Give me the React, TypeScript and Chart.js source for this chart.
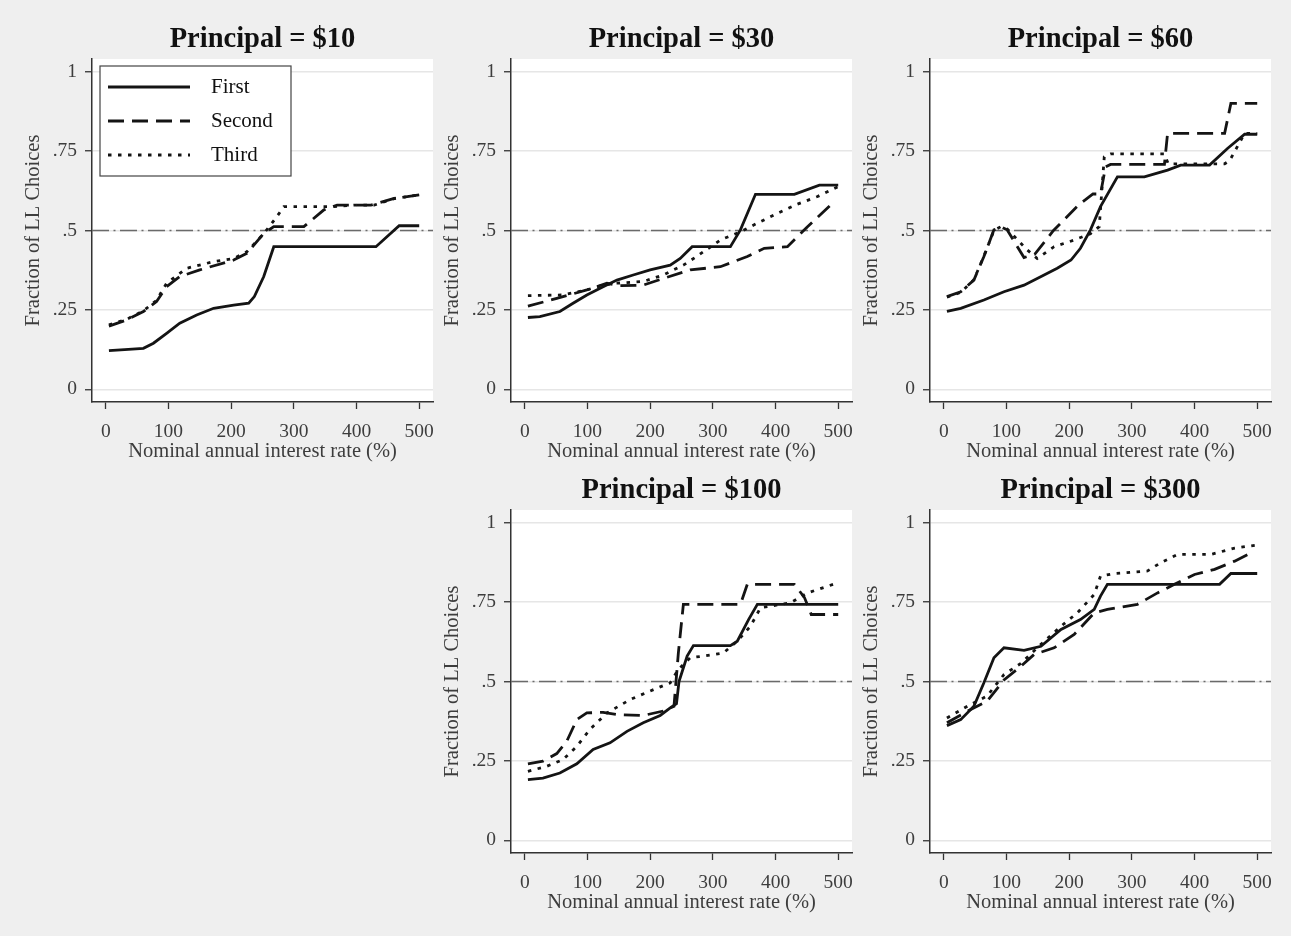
import React, { useEffect, useRef } from "react";
import { Chart, registerables } from "chart.js";

Chart.register(...registerables);

type Pt = [number, number];

// ---------- data ----------
const X_TICKS = [0, 100, 200, 300, 400, 500];
const Y_TICKS = [0, 0.25, 0.5, 0.75, 1];
const Y_TICK_LABELS = ["0", ".25", ".5", ".75", "1"];
const X_MIN = -22;
const X_MAX = 522;
const Y_MIN = -0.04;
const Y_MAX = 1.04;
const REF_Y = 0.5;
const SERIES_NAMES = ["First", "Second", "Third"];
const X_TITLE = "Nominal annual interest rate (%)";
const Y_TITLE = "Fraction of LL Choices";

const P10_FIRST: Pt[] = [[5,0.122],[30,0.125],[60,0.129],[76,0.145],[97,0.176],[118,0.208],[145,0.234],[172,0.255],[204,0.265],[228,0.271],[237,0.292],[252,0.355],[268,0.449],[431,0.449],[468,0.515],[500,0.515]];
const P10_SECOND: Pt[] = [[5,0.199],[33,0.218],[60,0.245],[81,0.276],[97,0.323],[118,0.355],[150,0.376],[204,0.407],[225,0.428],[252,0.491],[268,0.512],[316,0.512],[348,0.565],[369,0.58],[423,0.58],[460,0.601],[500,0.612]];
const P10_THIRD: Pt[] = [[5,0.203],[33,0.22],[60,0.247],[81,0.28],[97,0.334],[129,0.381],[172,0.402],[204,0.412],[225,0.433],[252,0.49],[273,0.544],[284,0.575],[364,0.575],[396,0.58],[428,0.58],[460,0.6],[500,0.612]];

const P30_FIRST: Pt[] = [[5,0.226],[24,0.229],[56,0.245],[77,0.271],[99,0.297],[125,0.323],[147,0.344],[173,0.36],[200,0.376],[232,0.391],[248,0.412],[267,0.449],[328,0.449],[344,0.502],[368,0.614],[430,0.614],[470,0.643],[500,0.643]];
const P30_SECOND: Pt[] = [[5,0.262],[51,0.286],[99,0.313],[131,0.334],[150,0.326],[189,0.328],[221,0.349],[264,0.376],[312,0.386],[355,0.418],[382,0.444],[419,0.449],[451,0.512],[488,0.58]];
const P30_THIRD: Pt[] = [[5,0.295],[61,0.297],[99,0.313],[125,0.328],[147,0.334],[190,0.34],[221,0.36],[253,0.391],[274,0.418],[312,0.47],[344,0.496],[371,0.523],[403,0.554],[435,0.583],[467,0.607],[500,0.638]];

const P60_FIRST: Pt[] = [[5,0.245],[27,0.255],[64,0.281],[96,0.307],[128,0.328],[160,0.36],[181,0.381],[203,0.407],[218,0.444],[234,0.502],[250,0.575],[277,0.669],[320,0.669],[357,0.69],[378,0.706],[424,0.706],[453,0.759],[480,0.803],[500,0.803]];
const P60_SECOND: Pt[] = [[5,0.292],[27,0.307],[48,0.344],[64,0.418],[80,0.502],[91,0.512],[101,0.502],[128,0.415],[145,0.425],[175,0.5],[215,0.58],[238,0.615],[250,0.615],[258,0.7],[266,0.708],[352,0.708],[357,0.806],[448,0.806],[458,0.9],[500,0.9]];
const P60_THIRD: Pt[] = [[5,0.29],[27,0.305],[48,0.345],[64,0.42],[80,0.5],[91,0.512],[101,0.505],[133,0.439],[149,0.412],[176,0.449],[208,0.47],[234,0.49],[248,0.512],[256,0.732],[266,0.741],[352,0.741],[358,0.71],[448,0.71],[456,0.72],[480,0.806],[500,0.806]];

const P100_FIRST: Pt[] = [[5,0.191],[29,0.196],[56,0.212],[83,0.241],[109,0.286],[136,0.307],[163,0.343],[189,0.37],[216,0.393],[232,0.417],[242,0.43],[246,0.5],[259,0.58],[269,0.613],[328,0.613],[339,0.627],[357,0.695],[371,0.743],[500,0.743]];
const P100_SECOND: Pt[] = [[5,0.241],[29,0.249],[51,0.273],[67,0.312],[83,0.38],[99,0.401],[125,0.403],[147,0.396],[189,0.393],[221,0.407],[238,0.422],[245,0.59],[253,0.743],[344,0.743],[355,0.806],[430,0.806],[446,0.765],[457,0.711],[500,0.711]];
const P100_THIRD: Pt[] = [[5,0.217],[35,0.233],[61,0.254],[83,0.296],[104,0.349],[131,0.401],[168,0.443],[200,0.47],[232,0.496],[245,0.538],[264,0.575],[285,0.58],[317,0.59],[339,0.627],[360,0.674],[376,0.732],[424,0.748],[451,0.779],[500,0.811]];

const P300_FIRST: Pt[] = [[5,0.361],[27,0.38],[48,0.422],[64,0.496],[80,0.575],[96,0.606],[128,0.598],[155,0.611],[187,0.664],[218,0.695],[240,0.727],[250,0.769],[261,0.806],[440,0.806],[458,0.84],[500,0.84]];
const P300_SECOND: Pt[] = [[5,0.37],[43,0.412],[69,0.438],[96,0.505],[123,0.548],[144,0.585],[176,0.606],[208,0.648],[240,0.716],[261,0.727],[309,0.743],[341,0.779],[368,0.806],[400,0.837],[432,0.853],[464,0.879],[490,0.905]];
const P300_THIRD: Pt[] = [[5,0.385],[43,0.428],[69,0.454],[96,0.522],[123,0.557],[155,0.617],[187,0.674],[213,0.716],[240,0.774],[250,0.832],[272,0.84],[325,0.848],[346,0.874],[373,0.9],[426,0.9],[464,0.92],[500,0.93]];

const PANELS = [
  { title: "Principal = $10", series: [P10_FIRST, P10_SECOND, P10_THIRD], col: 0, row: 0, legend: true },
  { title: "Principal = $30", series: [P30_FIRST, P30_SECOND, P30_THIRD], col: 1, row: 0, legend: false },
  { title: "Principal = $60", series: [P60_FIRST, P60_SECOND, P60_THIRD], col: 2, row: 0, legend: false },
  { title: "Principal = $100", series: [P100_FIRST, P100_SECOND, P100_THIRD], col: 1, row: 1, legend: false },
  { title: "Principal = $300", series: [P300_FIRST, P300_SECOND, P300_THIRD], col: 2, row: 1, legend: false },
];

// ---------- style ----------
const FONT = "'Liberation Serif', 'Times New Roman', serif";
const CW = 450;
const CH = 470;
const COL_STEP = 419;
const ROW_STEP = 451;
const AXIS_LEFT = 92;
const AXIS_BOTTOM = 402;
const LINE_COLOR = "#141414";
const DASHES = [[], [16, 8], [3.5, 6.5]];
const TEXT_GRAY = "#3d3d3d";
const AXIS_COLOR = "#333333";

const plotBg = {
  id: "plotBg",
  beforeDraw(chart: any) {
    const { ctx, chartArea: a } = chart;
    ctx.save();
    ctx.fillStyle = "#ffffff";
    ctx.fillRect(a.left, a.top, a.right - a.left, a.bottom - a.top);
    ctx.restore();
  },
};

const frameLegend = {
  id: "frameLegend",
  afterDraw(chart: any, _args: any, opts: any) {
    if (!opts || !opts.show) return;
    const { ctx, chartArea: a } = chart;
    const x = a.left + 8;
    const y = a.top + 7;
    const w = 191;
    const h = 110;
    ctx.save();
    ctx.fillStyle = "#ffffff";
    ctx.fillRect(x, y, w, h);
    ctx.strokeStyle = "#444444";
    ctx.lineWidth = 1.2;
    ctx.setLineDash([]);
    ctx.strokeRect(x, y, w, h);
    SERIES_NAMES.forEach((name, i) => {
      const ds = chart.data.datasets[i];
      const ry = y + 21 + i * 34;
      ctx.beginPath();
      ctx.setLineDash(ds.borderDash || []);
      ctx.strokeStyle = ds.borderColor;
      ctx.lineWidth = ds.borderWidth;
      ctx.moveTo(x + 8, ry);
      ctx.lineTo(x + 90, ry);
      ctx.stroke();
      ctx.setLineDash([]);
      ctx.fillStyle = "#111111";
      ctx.font = `21px ${FONT}`;
      ctx.textBaseline = "middle";
      ctx.textAlign = "left";
      ctx.fillText(name, x + 111, ry);
    });
    ctx.restore();
  },
};

function makeConfig(p: any): any {
  const datasets: any[] = p.series.map((s: Pt[], i: number) => ({
    label: SERIES_NAMES[i],
    data: s.map(([x, y]) => ({ x, y })),
    borderColor: LINE_COLOR,
    borderWidth: 2.8,
    borderDash: DASHES[i],
    pointRadius: 0,
    tension: 0,
    fill: false,
  }));
  datasets.push({
    label: "ref",
    data: [
      { x: X_MIN, y: REF_Y },
      { x: X_MAX, y: REF_Y },
    ],
    borderColor: "#6a6a6a",
    borderWidth: 1.5,
    borderDash: [17, 4.5, 2, 4.5],
    pointRadius: 0,
    fill: false,
  });

  return {
    type: "line",
    data: { datasets },
    plugins: [plotBg, frameLegend],
    options: {
      animation: false,
      responsive: false,
      maintainAspectRatio: false,
      events: [],
      layout: { padding: { left: 0, right: CW - 433, top: 0, bottom: 0 } },
      plugins: {
        legend: { display: false },
        tooltip: { enabled: false },
        frameLegend: { show: p.legend },
        title: {
          display: true,
          text: p.title,
          fullSize: false,
          align: "center",
          color: "#111111",
          font: { family: FONT, size: 28.5, weight: "bold", lineHeight: 1.2 },
          padding: { top: 22.4, bottom: 2.4 },
        },
      },
      scales: {
        x: {
          type: "linear",
          min: X_MIN,
          max: X_MAX,
          afterBuildTicks: (axis: any) => {
            axis.ticks = X_TICKS.map((v) => ({ value: v }));
          },
          afterFit: (axis: any) => {
            axis.height = CH - AXIS_BOTTOM;
          },
          ticks: {
            color: TEXT_GRAY,
            font: { family: FONT, size: 19.5 },
            padding: 11,
            maxRotation: 0,
            autoSkip: false,
            callback: (v: any) => String(v),
          },
          grid: {
            display: true,
            drawOnChartArea: false,
            drawTicks: true,
            tickLength: 7,
            tickColor: AXIS_COLOR,
            tickWidth: 1.3,
          },
          border: { display: true, color: AXIS_COLOR, width: 1.5 },
          title: {
            display: true,
            text: X_TITLE,
            color: TEXT_GRAY,
            font: { family: FONT, size: 20.5, lineHeight: 1.2 },
            padding: { top: 0, bottom: 6.5 },
          },
        },
        y: {
          type: "linear",
          min: Y_MIN,
          max: Y_MAX,
          afterBuildTicks: (axis: any) => {
            axis.ticks = Y_TICKS.map((v) => ({ value: v }));
          },
          afterFit: (axis: any) => {
            axis.width = AXIS_LEFT;
          },
          ticks: {
            color: TEXT_GRAY,
            font: { family: FONT, size: 19.5 },
            padding: 8,
            autoSkip: false,
            callback: (v: any) => {
              const i = Y_TICKS.indexOf(Number(v));
              return i >= 0 ? Y_TICK_LABELS[i] : "";
            },
          },
          grid: {
            display: true,
            drawOnChartArea: true,
            drawTicks: true,
            color: "#e6e6e6",
            lineWidth: 1.5,
            tickLength: 7,
            tickColor: AXIS_COLOR,
            tickWidth: 1.3,
          },
          border: { display: true, color: AXIS_COLOR, width: 1.5 },
          title: {
            display: true,
            text: Y_TITLE,
            color: TEXT_GRAY,
            font: { family: FONT, size: 20.5, lineHeight: 1.2 },
            padding: { top: 21.2, bottom: 0 },
          },
        },
      },
    },
  };
}

function Panel({ p }: { p: any }) {
  const ref = useRef<HTMLCanvasElement | null>(null);
  useEffect(() => {
    if (!ref.current) return;
    const chart = new Chart(ref.current, makeConfig(p));
    return () => chart.destroy();
  }, [p]);
  return (
    <canvas
      ref={ref}
      width={CW}
      height={CH}
      style={{
        position: "absolute",
        left: p.col * COL_STEP,
        top: p.row * ROW_STEP,
        width: CW,
        height: CH,
      }}
    />
  );
}

export default function App() {
  return (
    <div
      style={{
        position: "fixed",
        left: 0,
        top: 0,
        width: 1291,
        height: 936,
        background: "#efefef",
        overflow: "hidden",
      }}
    >
      {PANELS.map((p) => (
        <Panel key={p.title} p={p} />
      ))}
    </div>
  );
}
